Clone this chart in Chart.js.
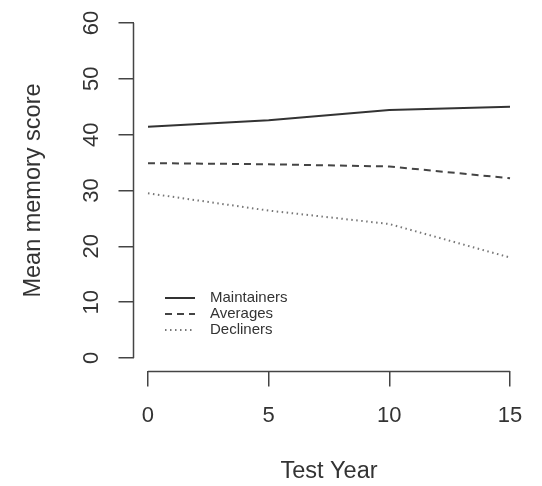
<!DOCTYPE html>
<html>
<head>
<meta charset="utf-8">
<script src="https://cdn.jsdelivr.net/npm/chart.js@4"></script>
<style>
  body { margin: 0; background: #fff; }
  #wrap { width: 542px; height: 486px; }
</style>
</head>
<body>
<div id="wrap"><canvas id="memChart" width="542" height="486"></canvas></div>
<script>
// Donnees
const years = [0, 5, 10, 15];
const maintainers = [41.4, 42.6, 44.4, 45.0];
const averages = [34.9, 34.7, 34.3, 32.2];
const decliners = [29.5, 26.4, 24.0, 18.0];
const yTicks = [0, 10, 20, 30, 40, 50, 60];
const xTicks = [0, 5, 10, 15];

const font = 'Liberation Sans, Arial, Helvetica, sans-serif';
const ink = '#333';

function toPoints(values) {
    return years.map((x, i) => ({ x: x, y: values[i] }));
}

// Axes facon R : ligne seulement du premier au dernier tick, labels y tournes
const rAxes = {
    id: 'rAxes',
    afterDraw(chart) {
        const ctx = chart.ctx;
        const xs = chart.scales.x, ys = chart.scales.y;
        const area = chart.chartArea;
        ctx.save();
        ctx.strokeStyle = '#444';
        ctx.lineWidth = 1.5;
        ctx.beginPath();
        ctx.moveTo(area.left, ys.getPixelForValue(yTicks[0]));
        ctx.lineTo(area.left, ys.getPixelForValue(yTicks[yTicks.length - 1]));
        ctx.moveTo(xs.getPixelForValue(xTicks[0]), area.bottom);
        ctx.lineTo(xs.getPixelForValue(xTicks[xTicks.length - 1]), area.bottom);
        ctx.stroke();

        ctx.fillStyle = ink;
        ctx.font = '22px ' + font;
        ctx.textAlign = 'center';
        ctx.textBaseline = 'middle';
        yTicks.forEach(v => {
            ctx.save();
            ctx.translate(92, ys.getPixelForValue(v));
            ctx.rotate(-Math.PI / 2);
            ctx.fillText(String(v), 0, 0);
            ctx.restore();
        });
        ctx.restore();
    }
};

// Legende sans cadre dans la zone du graphique
const rLegend = {
    id: 'rLegend',
    afterDraw(chart) {
        const ctx = chart.ctx;
        ctx.save();
        ctx.font = '15px ' + font;
        ctx.textBaseline = 'middle';
        chart.data.datasets.forEach((ds, i) => {
            const y = 298 + i * 16;
            ctx.strokeStyle = ds.borderColor;
            ctx.lineWidth = ds.borderWidth;
            ctx.setLineDash(ds.borderDash || []);
            ctx.beginPath();
            ctx.moveTo(165, y);
            ctx.lineTo(195, y);
            ctx.stroke();
            ctx.setLineDash([]);
            ctx.fillStyle = ink;
            ctx.fillText(ds.label, 210, y);
        });
        ctx.restore();
    }
};

document.addEventListener('DOMContentLoaded', () => {
    const ctx = document.getElementById('memChart').getContext('2d');
    new Chart(ctx, {
        type: 'line',
        data: {
            datasets: [
                { label: 'Maintainers', data: toPoints(maintainers), borderColor: '#333', borderWidth: 2, borderDash: [] },
                { label: 'Averages', data: toPoints(averages), borderColor: '#444', borderWidth: 2, borderDash: [7, 5] },
                { label: 'Decliners', data: toPoints(decliners), borderColor: '#777', borderWidth: 2, borderDash: [1.5, 3.5] }
            ]
        },
        options: {
            responsive: false,
            animation: false,
            layout: { padding: { top: 9.6, right: 17.5, left: 0, bottom: 0 } },
            elements: { point: { radius: 0 }, line: { tension: 0 } },
            plugins: { legend: { display: false }, tooltip: { enabled: false } },
            scales: {
                x: {
                    type: 'linear',
                    min: -0.6,
                    max: 15.6,
                    afterBuildTicks: s => { s.ticks = xTicks.map(v => ({ value: v })); },
                    afterFit: s => { s.height = 114.6; },
                    border: { display: false },
                    grid: { drawOnChartArea: false, drawTicks: true, tickLength: 15, color: '#444', lineWidth: 1.5 },
                    ticks: { color: ink, font: { family: font, size: 22 }, padding: 16, maxRotation: 0 },
                    title: { display: true, text: 'Test Year', color: ink, font: { family: font, size: 23.5 }, padding: { top: 0, bottom: 0 } }
                },
                y: {
                    type: 'linear',
                    min: -2.4,
                    max: 62.4,
                    afterBuildTicks: s => { s.ticks = yTicks.map(v => ({ value: v })); },
                    afterFit: s => { s.width = 133.5; },
                    border: { display: false },
                    grid: { drawOnChartArea: false, drawTicks: true, tickLength: 15, color: '#444', lineWidth: 1.5 },
                    ticks: { display: false },
                    title: { display: true, text: 'Mean memory score', color: ink, font: { family: font, size: 23.5 }, padding: { top: 19, bottom: 0 } }
                }
            }
        },
        plugins: [rAxes, rLegend]
    });
});
</script>
</body>
</html>
